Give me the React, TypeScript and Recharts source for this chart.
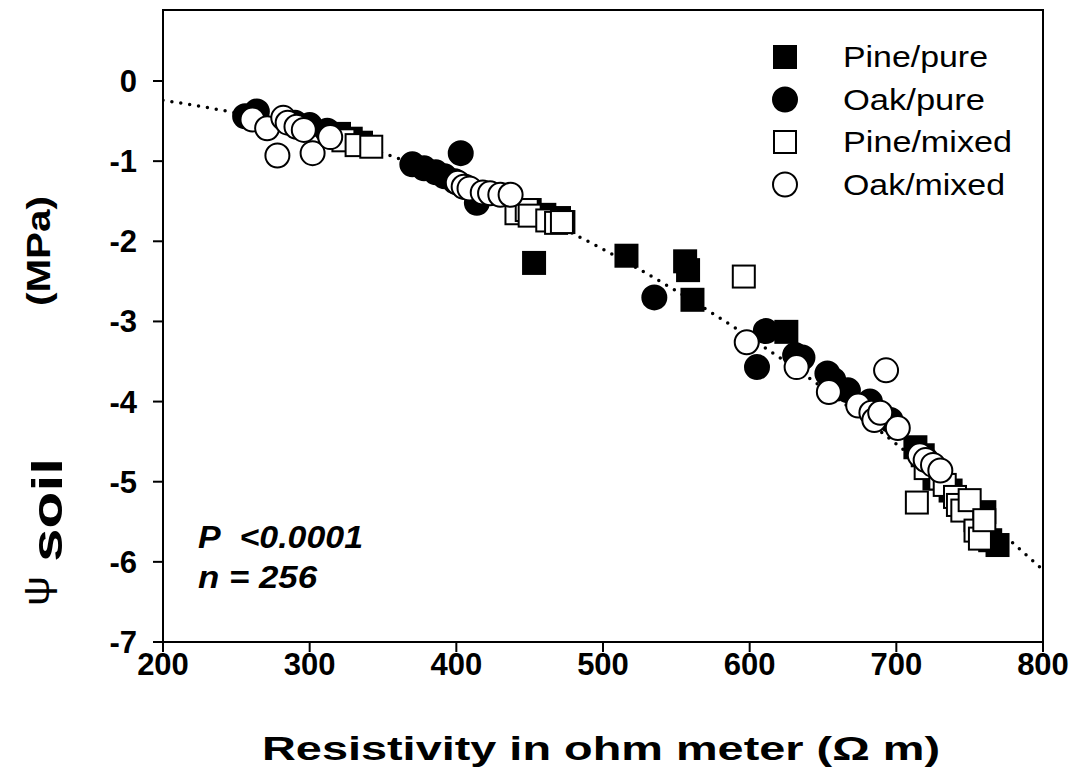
import React from "react";
import {
  ComposedChart,
  Scatter,
  Line,
  XAxis,
  YAxis,
  ReferenceArea,
} from "recharts";

// [resistivity (ohm m), psi soil (MPa)]
const pinePure: [number, number][] = [
  [320, -0.66], [328, -0.72], [335, -0.77],
  [450, -1.61], [460, -1.67], [470, -1.71], [473, -1.76],
  [453, -2.27], [516, -2.18], [556, -2.25], [558, -2.36], [561, -2.73], [625, -3.13],
  [713, -4.57], [718, -4.67], [726, -4.96], [737, -5.11], [754, -5.48],
  [760, -5.38], [764, -5.73], [769, -5.79],
];

const oakPure: [number, number][] = [
  [256, -0.44], [264, -0.38], [290, -0.52], [300, -0.55], [312, -0.62],
  [370, -1.04], [378, -1.09], [386, -1.14], [392, -1.19], [399, -1.25],
  [403, -0.9], [406, -1.32], [414, -1.52],
  [535, -2.7],
  [611, -3.12], [605, -3.57], [631, -3.42], [634, -3.48], [636, -3.45],
  [653, -3.65], [657, -3.73], [667, -3.86], [682, -4.0], [696, -4.23], [720, -4.72],
];

const pineMixed: [number, number][] = [
  [323, -0.74], [332, -0.8], [342, -0.82],
  [441, -1.65], [448, -1.61], [450, -1.68], [462, -1.74], [468, -1.77], [472, -1.76],
  [596, -2.44],
  [714, -5.26], [720, -4.83], [730, -4.96], [733, -5.04], [740, -5.19], [742, -5.29],
  [745, -5.36], [750, -5.23], [754, -5.61], [757, -5.71], [760, -5.48],
];

const oakMixed: [number, number][] = [
  [261, -0.48], [271, -0.59], [282, -0.46], [285, -0.52], [291, -0.57], [296, -0.61],
  [278, -0.93], [302, -0.9], [314, -0.7],
  [401, -1.27], [405, -1.32], [409, -1.34], [418, -1.39], [423, -1.4], [430, -1.42], [437, -1.42],
  [598, -3.26], [632, -3.57], [654, -3.88], [693, -3.61],
  [674, -4.05], [683, -4.14], [685, -4.23], [689, -4.14], [701, -4.33],
  [716, -4.67], [720, -4.73], [725, -4.79], [730, -4.86],
];

// dotted regression curve
const fitX = [200, 250, 300, 350, 400, 450, 500, 550, 600, 650, 700, 750, 800];
const fitY = [-0.24, -0.4, -0.62, -0.9, -1.24, -1.64, -2.1, -2.62, -3.2, -3.83, -4.53, -5.29, -6.1];

const xTicks = [200, 300, 400, 500, 600, 700, 800];
const yTicks = [-7, -6, -5, -4, -3, -2, -1, 0];

const legendItems = [
  { name: "Pine/pure", kind: "square", filled: true, w: 145 },
  { name: "Oak/pure", kind: "circle", filled: true, w: 142 },
  { name: "Pine/mixed", kind: "square", filled: false, w: 169 },
  { name: "Oak/mixed", kind: "circle", filled: false, w: 162 },
];

const toPts = (arr: [number, number][]) => arr.map(([x, y]) => ({ x, y }));
const fitData = fitX.map((x, i) => ({ x, y: fitY[i] }));

const font = "'Liberation Sans', Arial, sans-serif";

function Marker({ cx, cy, kind, filled }: any) {
  const fill = filled ? "#000" : "#fff";
  if (kind === "square") {
    return (
      <rect x={cx - 11} y={cy - 11} width={22} height={22} fill={fill} stroke="#000" strokeWidth={2} />
    );
  }
  return <circle cx={cx} cy={cy} r={12} fill={fill} stroke="#000" strokeWidth={2} />;
}

const shape = (kind: string, filled: boolean) => (p: any) =>
  <Marker cx={p.cx} cy={p.cy} kind={kind} filled={filled} />;

const tickStyle = { fill: "#000", fontSize: 31, fontWeight: "bold", fontFamily: font };

export default function App() {
  return (
    <div style={{ position: "absolute", left: 0, top: 0, width: 1078, height: 782, background: "#fff" }}>
      <ComposedChart
        width={1078}
        height={782}
        margin={{ top: 10, right: 35, left: 93, bottom: 90 }}
      >
        <XAxis
          type="number"
          dataKey="x"
          domain={[200, 800]}
          ticks={xTicks}
          allowDataOverflow
          tickSize={10}
          tickMargin={1}
          height={50}
          axisLine={{ stroke: "#000", strokeWidth: 2 }}
          tickLine={{ stroke: "#000", strokeWidth: 2 }}
          tick={tickStyle}
        />
        <YAxis
          type="number"
          dataKey="y"
          domain={[-7, 0.886]}
          ticks={yTicks}
          allowDataOverflow
          tickSize={10}
          tickMargin={16}
          width={70}
          axisLine={{ stroke: "#000", strokeWidth: 2 }}
          tickLine={{ stroke: "#000", strokeWidth: 2 }}
          tick={tickStyle}
        />
        <ReferenceArea x1={200} x2={800} y1={-7} y2={0.886} fill="none" stroke="#000" strokeWidth={2} />
        <Scatter data={toPts(pinePure)} shape={shape("square", true)} isAnimationActive={false} />
        <Scatter data={toPts(oakPure)} shape={shape("circle", true)} isAnimationActive={false} />
        <Scatter data={toPts(pineMixed)} shape={shape("square", false)} isAnimationActive={false} />
        <Scatter data={toPts(oakMixed)} shape={shape("circle", false)} isAnimationActive={false} />
        <Line
          data={fitData}
          dataKey="y"
          type="monotone"
          stroke="#000"
          strokeWidth={3.5}
          strokeDasharray="0 9"
          strokeLinecap="round"
          dot={false}
          activeDot={false}
          isAnimationActive={false}
        />
      </ComposedChart>

      <svg
        width={1078}
        height={782}
        style={{ position: "absolute", left: 0, top: 0, pointerEvents: "none" }}
        fontFamily={font}
      >
        {legendItems.map((it, i) => (
          <g key={it.name}>
            <Marker cx={785} cy={57 + i * 42.5} kind={it.kind} filled={it.filled} />
            <text x={843} y={67 + i * 42.5} fontSize={30} fill="#000" textLength={it.w} lengthAdjust="spacingAndGlyphs">
              {it.name}
            </text>
          </g>
        ))}
        <text x={198} y={548} fontSize={32} fontWeight="bold" fontStyle="italic" textLength={165} lengthAdjust="spacingAndGlyphs">
          {"P\u00a0 <0.0001"}
        </text>
        <text x={198} y={588} fontSize={32} fontWeight="bold" fontStyle="italic" textLength={119} lengthAdjust="spacingAndGlyphs">
          n = 256
        </text>
        <text x={601} y={760} fontSize={33} fontWeight="bold" textAnchor="middle" textLength={678} lengthAdjust="spacingAndGlyphs">
          Resistivity in ohm meter (Ω m)
        </text>
        <text transform="translate(49,606) rotate(-90)" fontSize={36} textLength={30} lengthAdjust="spacingAndGlyphs">
          ψ
        </text>
        <text transform="translate(62,562) rotate(-90)" fontSize={42} fontWeight="bold" textLength={104} lengthAdjust="spacingAndGlyphs">
          soil
        </text>
        <text transform="translate(50,306) rotate(-90)" fontSize={34} fontWeight="bold" textLength={110} lengthAdjust="spacingAndGlyphs">
          (MPa)
        </text>
      </svg>
    </div>
  );
}
